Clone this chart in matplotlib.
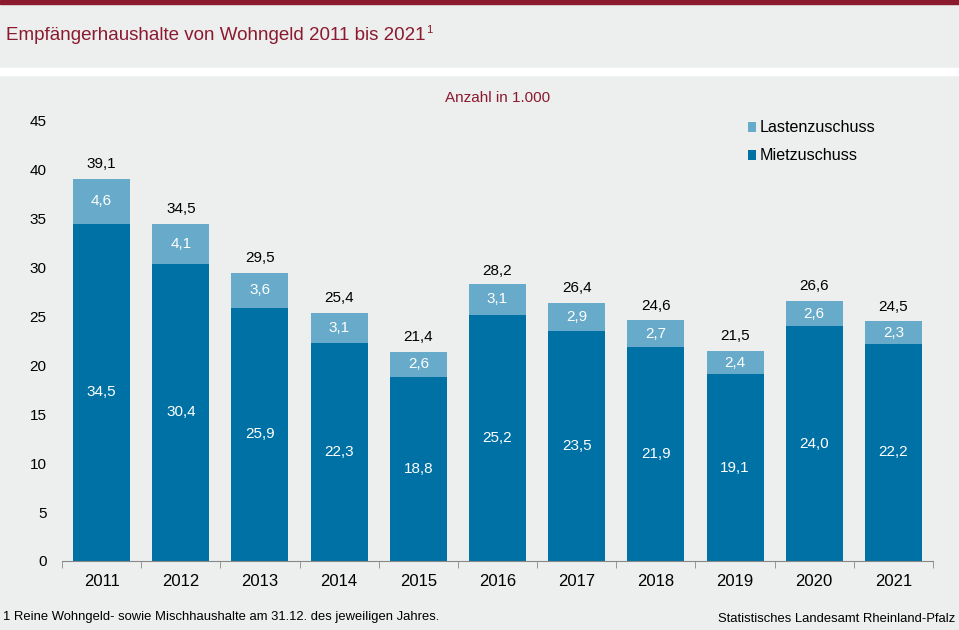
import matplotlib
matplotlib.use("Agg")
import matplotlib.pyplot as plt
import numpy as np
from matplotlib.patches import Rectangle

plt.rcParams['font.family'] = ['Liberation Sans', 'DejaVu Sans']

years = ['2011', '2012', '2013', '2014', '2015', '2016', '2017', '2018', '2019', '2020', '2021']
miet = [34.5, 30.4, 25.9, 22.3, 18.8, 25.2, 23.5, 21.9, 19.1, 24.0, 22.2]
lasten = [4.6, 4.1, 3.6, 3.1, 2.6, 3.1, 2.9, 2.7, 2.4, 2.6, 2.3]
totals = [39.1, 34.5, 29.5, 25.4, 21.4, 28.2, 26.4, 24.6, 21.5, 26.6, 24.5]
yticks = [0, 5, 10, 15, 20, 25, 30, 35, 40, 45]

c_dark = '#0071A4'
c_light = '#67AAC9'
c_red = '#8B1A2F'
bg = '#EDEEEE'

def fmt(v):
    return f"{v:.1f}".replace('.', ',')

fig = plt.figure(figsize=(9.59, 6.30), dpi=100)
fig.patch.set_facecolor(bg)
W, H = 959, 630
# top red bar
fig.add_artist(Rectangle((0, 1 - 4 / H), 1, 4 / H, transform=fig.transFigure, color=c_red, zorder=0))
# white strip
fig.add_artist(Rectangle((0, 1 - 75 / H), 1, 7 / H, transform=fig.transFigure, color='white', zorder=0))

fig.text(6 / W, 1 - 35 / H, 'Empfängerhaushalte von Wohngeld 2011 bis 2021', color=c_red,
         fontsize=13.5, va='center', ha='left')
fig.text(426 / W, 1 - 30 / H, '1', color=c_red, fontsize=8, va='center', ha='left')

ax = fig.add_axes([62 / W, 1 - 561 / H, (933 - 62) / W, (561 - 121) / H])
ax.set_facecolor(bg)
x = np.arange(len(years))
bw = 0.72
ax.bar(x, miet, bw, color=c_dark, label='Mietzuschuss', zorder=2)
ax.bar(x, lasten, bw, bottom=miet, color=c_light, label='Lastenzuschuss', zorder=2)

for i in range(len(years)):
    ax.text(x[i], miet[i] / 2, fmt(miet[i]), ha='center', va='center', color='white', fontsize=11)
    ax.text(x[i], miet[i] + lasten[i] / 2, fmt(lasten[i]), ha='center', va='center', color='white', fontsize=11)
    ax.text(x[i], totals[i] + 1.5, fmt(totals[i]), ha='center', va='center', color='black', fontsize=11)

ax.set_xlim(-0.5, len(years) - 0.5)
ax.set_ylim(0, 45)
ax.set_yticks(yticks)
ax.set_yticklabels([str(v) for v in yticks], fontsize=11)
ax.set_xticks(x)
ax.set_xticklabels(years, fontsize=12)
ax.tick_params(axis='y', length=0, pad=11)
ax.tick_params(axis='x', length=0, pad=9)
ax.set_xticks(np.arange(-0.5, len(years), 1), minor=True)
ax.tick_params(axis='x', which='minor', length=5, color='#888888', direction='out')
for s in ['top', 'right', 'left']:
    ax.spines[s].set_visible(False)
ax.spines['bottom'].set_color('#888888')

h, l = ax.get_legend_handles_labels()
leg = ax.legend([h[1], h[0]], [l[1], l[0]], loc='upper left', bbox_to_anchor=(733 / W, 1 - 106 / H),
                bbox_transform=fig.transFigure, frameon=False, fontsize=11.6, handlelength=0.55,
                handleheight=0.55, handletextpad=0.2, labelspacing=0.8)

fig.text(498 / W, 1 - 98 / H, 'Anzahl in 1.000', color=c_red, fontsize=11, ha='center', va='center')
fig.text(3 / W, 1 - 617 / H, '1 Reine Wohngeld- sowie Mischhaushalte am 31.12. des jeweiligen Jahres.',
         fontsize=9.4, ha='left', va='center')
fig.text(955 / W, 1 - 619 / H, 'Statistisches Landesamt Rheinland-Pfalz', fontsize=9.4, ha='right', va='center')

fig.savefig('out.png', dpi=100, facecolor=bg)
